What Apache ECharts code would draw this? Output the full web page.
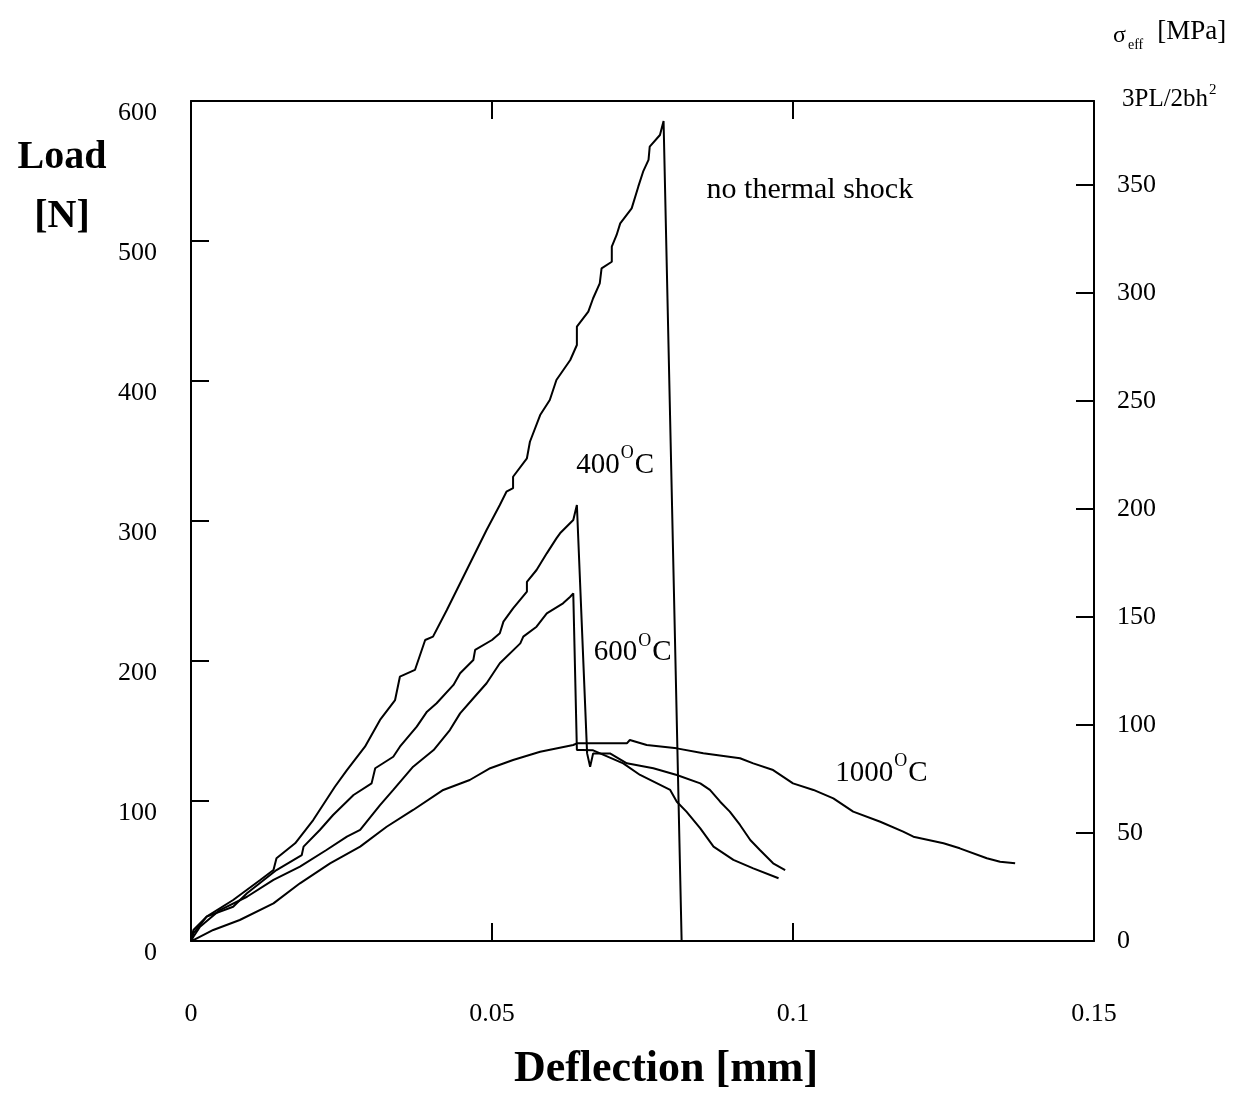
<!DOCTYPE html>
<html>
<head>
<meta charset="utf-8">
<script src="https://cdn.jsdelivr.net/npm/echarts@6/dist/echarts.min.js"></script>
<style>
  html, body { margin: 0; padding: 0; background: #fff; }
  #chart { width: 1257px; height: 1100px; }
</style>
</head>
<body>
<div id="chart"></div>
<script>
// deflection [mm], load [N]
var noShock = [
  [0, 0], [0.0004, 5.5], [0.0026, 17.4], [0.0070, 29.3], [0.0115, 43.6], [0.0137, 50.7],
  [0.0142, 59.1], [0.0173, 69.8], [0.0203, 86.4], [0.0239, 110.2], [0.0259, 122.1],
  [0.0289, 138.8], [0.0314, 157.9], [0.0339, 172.1], [0.0347, 188.8], [0.0372, 193.6],
  [0.0389, 215], [0.0402, 217.4], [0.0425, 236.4], [0.0458, 265], [0.0491, 293.6],
  [0.0513, 311.4], [0.0524, 320.9], [0.0535, 323.4], [0.0535, 331.6], [0.0558, 344.8],
  [0.0563, 356.6], [0.0580, 375.7], [0.0596, 386.4], [0.0607, 400.7], [0.0630, 415],
  [0.0641, 425.7], [0.0641, 438.8], [0.0660, 449.5], [0.0668, 459.1], [0.0679, 469.8],
  [0.0682, 480.5], [0.0699, 485.2], [0.0699, 495.9], [0.0707, 504.3], [0.0713, 512.6],
  [0.0732, 523.3], [0.0743, 538.8], [0.0751, 549.5], [0.0760, 557.9], [0.0762, 567.4],
  [0.0779, 575.7], [0.0785, 585.7], [0.0815, 0]
];
var shock400 = [
  [0, 0], [0.0004, 7.9], [0.0026, 17.4], [0.0070, 24.5], [0.0093, 34.1], [0.0142, 50.7],
  [0.0184, 61.4], [0.0187, 67.4], [0.0214, 79.3], [0.0236, 90], [0.0270, 104.3],
  [0.0300, 112.6], [0.0306, 123.4], [0.0336, 131.6], [0.0347, 138.8], [0.0375, 153.1],
  [0.0392, 163.8], [0.0408, 169.8], [0.0436, 182.9], [0.0447, 191.2], [0.0469, 200.7],
  [0.0472, 207.9], [0.0500, 215], [0.0513, 219.8], [0.0519, 228.1], [0.0535, 237.6],
  [0.0558, 249.5], [0.0558, 256.6], [0.0574, 265], [0.0591, 276.9], [0.0607, 287.6],
  [0.0613, 291.2], [0.0635, 300.7], [0.0641, 311.4], [0.0658, 134], [0.0663, 124.5],
  [0.0668, 134], [0.0696, 134], [0.0724, 126.9], [0.0768, 123.4], [0.0807, 118.6],
  [0.0846, 112.6], [0.0862, 107.9], [0.0879, 99.5], [0.0895, 92.4], [0.0912, 82.9],
  [0.0929, 72.1], [0.0945, 65], [0.0967, 55.5], [0.0987, 50.7]
];
var shock600 = [
  [0, 0], [0.0004, 3], [0.0015, 10.2], [0.0048, 22.1], [0.0093, 31.6], [0.0137, 43.6],
  [0.0181, 53.1], [0.0225, 65], [0.0259, 74.5], [0.0281, 79.3], [0.0314, 97.1],
  [0.0336, 107.9], [0.0369, 124.5], [0.0403, 136.4], [0.0430, 150.7], [0.0447, 162.6],
  [0.0469, 173.4], [0.0491, 184.1], [0.0513, 198.4], [0.0547, 212.6], [0.0552, 217.4],
  [0.0574, 224.5], [0.0591, 234], [0.0618, 241.2], [0.0630, 245.9], [0.0635, 248.3],
  [0.0641, 136.4], [0.0650, 136.4], [0.0668, 136.2], [0.0718, 126.9], [0.0746, 118.6],
  [0.0796, 107.9], [0.0807, 99.5], [0.0823, 92.4], [0.0846, 80.5], [0.0868, 67.4],
  [0.0901, 57.9], [0.0934, 51.9], [0.0976, 44.8]
];
var shock1000 = [
  [0, 0], [0.0004, 0.7], [0.0037, 7.9], [0.0081, 15], [0.0137, 26.9], [0.0181, 41.2],
  [0.0231, 55.5], [0.0281, 67.4], [0.0325, 81.6], [0.0369, 93.6], [0.0419, 107.9],
  [0.0463, 115], [0.0497, 123.4], [0.0535, 129.3], [0.0580, 135.2], [0.0635, 140],
  [0.0641, 141.2], [0.0724, 141.2], [0.0729, 143.6], [0.0757, 140], [0.0807, 137.6],
  [0.0851, 134.1], [0.0912, 130.5], [0.0934, 126.9], [0.0967, 122.1], [0.1000, 112.6],
  [0.1034, 107.9], [0.1067, 101.9], [0.1100, 92.4], [0.1145, 85.2], [0.1183, 78.1],
  [0.1200, 74.5], [0.1250, 69.8], [0.1277, 66.2], [0.1322, 59.1], [0.1344, 56.6],
  [0.1369, 55.5]
];
var xTicks = ['0', '0.05', '0.1', '0.15'];
var curveLabels = [
  { series: 0, coord: [0.1028, 536], text: 'no thermal shock', align: 'center' },
  { series: 1, coord: [0.0640, 342], text: '{d|400}{o|O}{d|C}', align: 'left' },
  { series: 2, coord: [0.0669, 208], text: '{d|600}{o|O}{d|C}', align: 'left' },
  { series: 3, coord: [0.1070, 122], text: '{d|1000}{o|O}{d|C}', align: 'left' }
];

var serif = '"Liberation Serif", "Times New Roman", serif';
var chart = echarts.init(document.getElementById('chart'));

var labelRich = {
  d: { fontFamily: serif, fontSize: 29, color: '#000', verticalAlign: 'bottom' },
  o: { fontFamily: serif, fontSize: 18, color: '#000', verticalAlign: 'bottom', padding: [0, 1, 17, 1] }
};

function makeSeries(name, data, idx) {
  var marks = curveLabels.filter(function (l) { return l.series === idx; }).map(function (l) {
    return {
      coord: l.coord,
      symbol: 'circle',
      symbolSize: 0,
      label: {
        show: true,
        position: 'inside',
        formatter: l.text,
        align: l.align,
        verticalAlign: 'middle',
        fontFamily: serif,
        fontSize: 30,
        color: '#000',
        rich: labelRich
      }
    };
  });
  return {
    name: name,
    type: 'line',
    data: data,
    xAxisIndex: 0,
    yAxisIndex: 0,
    symbol: 'none',
    lineStyle: { color: '#000', width: 2 },
    markPoint: { silent: true, data: marks }
  };
}

var axisLine = { show: true, onZero: false, lineStyle: { color: '#000', width: 2 } };
var axisTick = { show: true, inside: true, length: 18, lineStyle: { color: '#000', width: 2 } };

var option = {
  animation: false,
  backgroundColor: '#fff',
  title: {
    text: '{s|σ}{sub|eff} {u|[MPa]}',
    left: 1108,
    top: 13,
    textStyle: {
      rich: {
        s: { fontFamily: serif, fontSize: 24, fontWeight: 'normal', color: '#000', verticalAlign: 'bottom', padding: [0, 0, 4, 0] },
        sub: { fontFamily: serif, fontSize: 14, fontWeight: 'normal', color: '#000', verticalAlign: 'bottom', padding: [0, 9, 0, 2] },
        u: { fontFamily: serif, fontSize: 27, fontWeight: 'normal', color: '#000', verticalAlign: 'bottom', padding: [0, 0, 7, 0] }
      }
    }
  },
  grid: { left: 191, right: 163, top: 101, bottom: 159, containLabel: false, outerBoundsMode: 'none' },
  xAxis: [
    {
      type: 'value', position: 'bottom', min: 0, max: 0.15, interval: 0.05,
      name: 'Deflection [mm]', nameLocation: 'middle', nameGap: 107, nameMoveOverlap: false,
      nameTextStyle: { fontFamily: serif, fontSize: 44, fontWeight: 'bold', color: '#000', padding: [0, 0, 0, 47] },
      axisLine: axisLine,
      axisTick: axisTick,
      axisLabel: {
        margin: 60, fontFamily: serif, fontSize: 26, color: '#000',
        formatter: function (v) { return xTicks[Math.round(v / 0.05)]; }
      },
      splitLine: { show: false }
    },
    {
      type: 'value', position: 'top', min: 0, max: 0.15, interval: 0.05,
      axisLine: axisLine,
      axisTick: axisTick,
      axisLabel: { show: false },
      splitLine: { show: false }
    }
  ],
  yAxis: [
    {
      type: 'value', position: 'left', min: 0, max: 600, interval: 100,
      name: 'Load\n[N]', nameLocation: 'end', nameGap: -27, nameMoveOverlap: false,
      nameTextStyle: {
        fontFamily: serif, fontSize: 40, fontWeight: 'bold', color: '#000',
        align: 'center', verticalAlign: 'top', lineHeight: 59, padding: [0, 258, 0, 0]
      },
      axisLine: axisLine,
      axisTick: axisTick,
      axisLabel: {
        margin: 34, fontFamily: serif, fontSize: 26, color: '#000',
        verticalAlign: 'top', lineHeight: 24
      },
      splitLine: { show: false }
    },
    {
      type: 'value', position: 'right', min: 0, max: 389, interval: 50,
      name: '{n|3PL/2bh}{sup|2}', nameLocation: 'end', nameGap: 4, nameMoveOverlap: false,
      nameTextStyle: {
        align: 'left', verticalAlign: 'middle', padding: [0, 0, 0, 28],
        rich: {
          n: { fontFamily: serif, fontSize: 25, color: '#000', verticalAlign: 'bottom' },
          sup: { fontFamily: serif, fontSize: 15, color: '#000', verticalAlign: 'bottom', padding: [0, 0, 14, 1] }
        }
      },
      axisLine: axisLine,
      axisTick: axisTick,
      axisLabel: {
        margin: 23, fontFamily: serif, fontSize: 26, color: '#000', showMaxLabel: false,
        formatter: function (v) { return v % 50 === 0 ? String(v) : ''; }
      },
      splitLine: { show: false }
    }
  ],
  series: [
    makeSeries('no thermal shock', noShock, 0),
    makeSeries('400°C', shock400, 1),
    makeSeries('600°C', shock600, 2),
    makeSeries('1000°C', shock1000, 3)
  ]
};

chart.setOption(option);
</script>
</body>
</html>
